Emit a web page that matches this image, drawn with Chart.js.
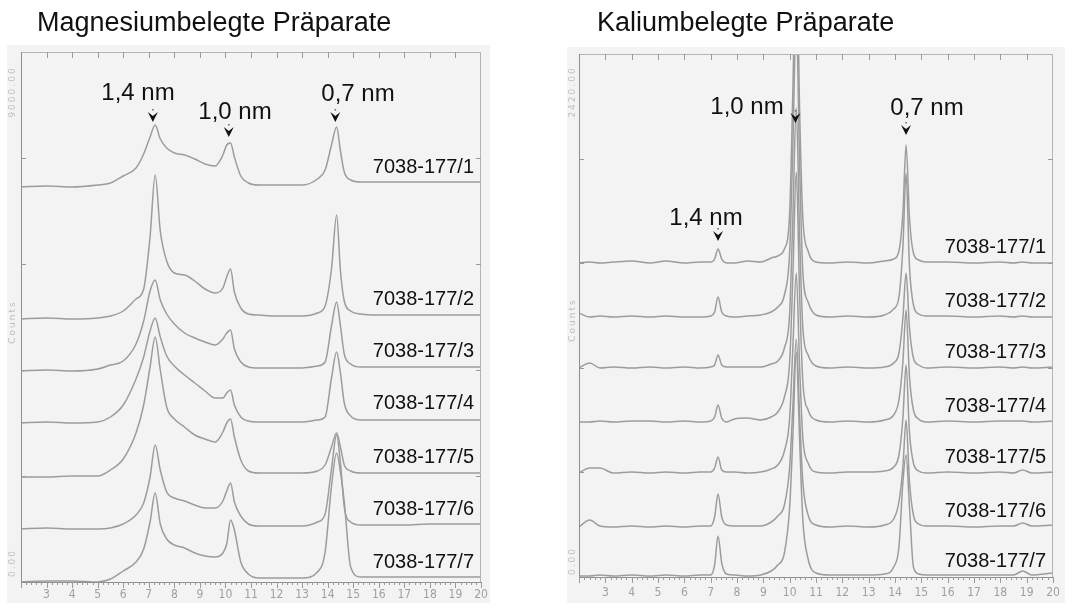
<!DOCTYPE html>
<html>
<head>
<meta charset="utf-8">
<script src="https://cdn.jsdelivr.net/npm/chart.js@4.4.1/dist/chart.umd.min.js"></script>
<style>
  html, body { margin: 0; padding: 0; }
  body { width: 1070px; height: 603px; background: #ffffff; position: relative; overflow: hidden;
         font-family: 'Liberation Sans', Arial, sans-serif; }
  .sheet { position: absolute; background: #f3f3f3; }
  canvas { position: absolute; top: 0; }
  .title { position: absolute; font-size: 27px; line-height: 1; color: #111; white-space: nowrap; }
  .peak { position: absolute; font-size: 24px; line-height: 1; color: #111; white-space: nowrap;
          transform: translate(-50%, -50%); }
  .sample { position: absolute; font-size: 20px; line-height: 1; color: #111; white-space: nowrap;
            transform: translate(-100%, -50%); }
  .axisnote { position: absolute; font-size: 9px; line-height: 1; color: #bdbdbd; white-space: nowrap;
              letter-spacing: 2px; transform: translate(-50%, -50%) rotate(-90deg);
              font-family: 'DejaVu Sans', sans-serif; }
</style>
</head>
<body>
<div class="sheet" style="left:7px;top:45px;width:483px;height:558px"></div>
<div class="sheet" style="left:567px;top:47px;width:498px;height:556px"></div>

<canvas id="mg" width="535" height="603" style="left:0;width:535px;height:603px"></canvas>
<canvas id="k" width="535" height="603" style="left:535px;width:535px;height:603px"></canvas>

<div class="title" style="left:37px;top:9px">Magnesiumbelegte Präparate</div>
<div class="title" style="left:597px;top:9px">Kaliumbelegte Präparate</div>

<div class="peak" style="left:138px;top:92px">1,4 nm</div>
<div class="peak" style="left:235px;top:111px">1,0 nm</div>
<div class="peak" style="left:358px;top:93px">0,7 nm</div>
<div class="peak" style="left:747px;top:106px">1,0 nm</div>
<div class="peak" style="left:927px;top:107px">0,7 nm</div>
<div class="peak" style="left:706px;top:217px">1,4 nm</div>

<div class="axisnote" style="left:12px;top:92px">9000.00</div>
<div class="axisnote" style="left:12px;top:322px">Counts</div>
<div class="axisnote" style="left:12px;top:563px">0.00</div>
<div class="axisnote" style="left:572px;top:92px">2420.00</div>
<div class="axisnote" style="left:572px;top:320px">Counts</div>
<div class="axisnote" style="left:572px;top:561px">0.00</div>

<script>
// ---- diffraction angle (°2θ) axis ----
const X_TICKS = [3, 4, 5, 6, 7, 8, 9, 10, 11, 12, 13, 14, 15, 16, 17, 18, 19, 20];
const SAMPLES = ['7038-177/1', '7038-177/2', '7038-177/3', '7038-177/4', '7038-177/5', '7038-177/6', '7038-177/7'];

// ---- Mg-saturated samples: angle grid and intensities above each trace baseline ----
const MG_THETA = [2, 3, 4, 5, 5.5, 6, 6.5, 6.8, 7.05, 7.25, 7.45, 7.7, 8.0, 8.4, 8.8, 9.2, 9.6, 9.9,
  10.05, 10.2, 10.35, 10.6, 10.9, 11.3, 12, 13, 13.6, 13.9, 14.15, 14.35, 14.5, 14.65, 14.9, 15.3, 16, 17, 18, 19, 20];
const MG_1 = [0, 1, 0, 2, 4, 11, 19, 33, 50, 62, 48, 39, 34, 32, 28, 23, 21, 32, 42, 44, 30, 11, 4, 2, 2, 2, 8, 17, 42, 60, 36, 15, 7, 5, 5, 5, 5, 5, 5];
const MG_2 = [0, 1, 0, 1, 3, 8, 20, 30, 82, 144, 88, 58, 46, 44, 38, 30, 26, 31, 42, 50, 27, 11, 5, 4, 3, 3, 6, 13, 50, 104, 48, 18, 8, 5, 4, 4, 4, 4, 4];
const MG_3 = [0, 1, 0, 2, 6, 10, 27, 50, 80, 91, 71, 57, 47, 38, 33, 29, 26, 32, 38, 41, 22, 9, 4, 3, 3, 3, 5, 9, 45, 69, 45, 17, 7, 4, 4, 4, 4, 4, 4];
const MG_4 = [0, 1, 0, 1, 6, 18, 44, 66, 92, 105, 86, 67, 57, 48, 40, 32, 25, 25, 30, 33, 18, 6, 2, 1, 1, 1, 3, 6, 45, 71, 50, 20, 7, 3, 3, 3, 3, 3, 3];
const MG_5 = [0, 0, 1, 1, 7, 18, 44, 72, 110, 140, 107, 70, 58, 50, 42, 38, 35, 45, 54, 58, 40, 17, 6, 4, 4, 4, 6, 12, 30, 44, 30, 12, 6, 4, 4, 4, 4, 4, 4];
const MG_6 = [0, 1, 0, 0, 1, 5, 14, 26, 52, 84, 59, 37, 31, 28, 24, 21, 21, 28, 38, 46, 27, 13, 5, 3, 3, 3, 7, 15, 60, 94, 66, 22, 7, 4, 4, 4, 5, 5, 5];
const MG_7 = [0, 1, 1, 0, 3, 11, 20, 33, 60, 89, 58, 43, 37, 34, 29, 26, 25, 29, 38, 62, 52, 20, 8, 4, 4, 4, 10, 30, 96, 129, 110, 80, 15, 5, 5, 5, 5, 5, 5];
const MG_SHIFT = [395, 263, 211, 159, 105, 53, 0];

// ---- K-saturated samples ----
const K_THETA = [2, 2.4, 2.8, 3.3, 4, 4.7, 5.3, 6, 6.6, 7.0, 7.15, 7.28, 7.42, 7.6, 7.9, 8.4, 8.9, 9.3, 9.55, 9.8,
  10.0, 10.12, 10.25, 10.38, 10.5, 10.7, 11.0, 11.5, 12.2, 13, 13.6, 13.95, 14.15, 14.3, 14.42, 14.55, 14.7, 14.9,
  15.2, 16, 17, 18, 18.5, 18.85, 19.2, 20];
const K_1 = [0, 1, 0, 1, 2, 0, 2, 0, 1, 1, 4, 14, 4, 0, 0, 2, 1, 5, 7, 14, 50, 170, 330, 150, 45, 12, 1, 0, 1, 0, 2, 4, 12, 50, 118, 45, 10, 3, 1, 1, 0, 1, 0, 1, 0, 0];
const K_2 = [4, 0, 1, 0, 1, 0, 1, 0, 0, 1, 5, 20, 5, 1, 0, 1, 2, 5, 10, 22, 65, 170, 300, 150, 45, 15, 2, 0, 1, 0, 2, 8, 20, 70, 144, 50, 12, 3, 1, 1, 0, 1, 0, 1, 0, 0];
const K_3 = [0, 5, 0, 1, 0, 1, 0, 1, 0, 1, 3, 13, 3, 1, 1, 1, 1, 4, 7, 20, 55, 150, 260, 130, 40, 13, 2, 0, 1, 0, 1, 5, 15, 50, 95, 40, 10, 3, 0, 1, 0, 1, 0, 1, 0, 1];
const K_4 = [0, 0, 1, 0, 1, 1, 0, 1, 0, 1, 5, 17, 4, 0, 3, 4, 2, 5, 10, 25, 60, 145, 250, 125, 40, 12, 2, 0, 1, 0, 2, 7, 22, 60, 112, 45, 12, 3, 0, 1, 0, 1, 1, 1, 0, 1];
const K_5 = [0, 5, 5, 0, 1, 0, 1, 0, 1, 1, 5, 16, 3, 1, 1, 0, 1, 4, 8, 22, 55, 125, 200, 105, 35, 10, 1, 0, 1, 1, 2, 6, 18, 55, 108, 40, 10, 2, 0, 1, 0, 1, 0, 3, 0, 1];
const K_6 = [0, 7, 1, 0, 1, 0, 1, 0, 1, 1, 10, 33, 10, 2, 1, 1, 1, 5, 11, 22, 60, 120, 188, 110, 45, 12, 2, 0, 1, 0, 2, 8, 25, 60, 107, 45, 12, 3, 1, 1, 0, 1, 1, 4, 1, 2];
const K_7 = [1, 1, 2, 1, 2, 1, 2, 1, 2, 2, 12, 41, 14, 3, 2, 1, 2, 6, 12, 24, 70, 140, 225, 135, 57, 18, 4, 2, 2, 2, 3, 10, 30, 95, 122, 70, 10, 3, 2, 2, 2, 2, 2, 6, 2, 4];
const K_SHIFT = [314, 260, 209, 155, 104, 50, 0];

// peak positions (°2θ) marked with arrows
const MG_PEAKS = [7.16, 10.13, 14.3];
const K_PEAKS = [7.28, 10.22, 14.42];

// ---- drawing ----
const TRACE_COLOR = '#9c9c9c';

function traces(theta, series, shifts) {
  return series.map((counts, i) => ({
    data: theta.map((t, j) => ({ x: t, y: counts[j] + shifts[i] })),
    borderColor: TRACE_COLOR,
    borderWidth: 1.5,
    pointRadius: 0,
    fill: false,
    cubicInterpolationMode: 'monotone'
  }));
}

// frame, tick marks and peak arrows of a diffractogram sheet
const sheetFrame = {
  id: 'sheetFrame',
  afterDatasetsDraw(chart, args, opts) {
    const { ctx, chartArea: a, scales: { x, y } } = chart;
    ctx.save();
    ctx.lineWidth = 1;
    ctx.strokeStyle = '#b4b4b4';
    ctx.beginPath();
    ctx.moveTo(a.left, a.top + 0.5); ctx.lineTo(a.right, a.top + 0.5);
    ctx.moveTo(a.right - 0.5, a.top); ctx.lineTo(a.right - 0.5, a.bottom);
    ctx.stroke();
    ctx.strokeStyle = '#8e8e8e';
    ctx.beginPath();
    ctx.moveTo(a.left + 0.5, a.top); ctx.lineTo(a.left + 0.5, a.bottom + 0.5);
    ctx.lineTo(a.right, a.bottom + 0.5);
    ctx.stroke();

    // integer ticks on top (inward) and bottom (outward), minor ticks every 0.2°
    ctx.strokeStyle = '#9a9a9a';
    ctx.beginPath();
    for (let k = 10; k <= 100; k++) {
      const px = Math.round(x.getPixelForValue(k / 5)) + 0.5;
      const major = k % 5 === 0;
      ctx.moveTo(px, a.bottom);
      ctx.lineTo(px, a.bottom + (major ? 6 : 3));
      if (major && k > 10 && k < 100) {
        ctx.moveTo(px, a.top);
        ctx.lineTo(px, a.top + 6);
      }
    }
    // count ticks on both side axes (inward)
    opts.countTicks.forEach(v => {
      const py = Math.round(y.getPixelForValue(v)) + 0.5;
      ctx.moveTo(a.left, py); ctx.lineTo(a.left + 5, py);
      ctx.moveTo(a.right, py); ctx.lineTo(a.right - 5, py);
    });
    ctx.stroke();

    // arrows over the reflections
    opts.peaks.forEach((t, i) => {
      const px = x.getPixelForValue(t);
      const py = opts.arrowY[i];
      ctx.fillStyle = '#111';
      ctx.beginPath();
      ctx.moveTo(px - 5, py - 5);
      ctx.lineTo(px, py + 5);
      ctx.lineTo(px + 5, py - 5);
      ctx.lineTo(px, py - 1);
      ctx.closePath();
      ctx.fill();
      ctx.fillStyle = '#666';
      ctx.fillRect(px - 0.7, py - 8, 1.5, 1.5);
    });
    ctx.restore();
  }
};

function sheet(canvasId, theta, series, shifts, cfg) {
  return new Chart(document.getElementById(canvasId), {
    type: 'line',
    data: { datasets: traces(theta, series, shifts) },
    plugins: [sheetFrame],
    options: {
      responsive: false,
      animation: false,
      devicePixelRatio: 1,
      layout: { padding: cfg.padding },
      plugins: {
        legend: { display: false },
        tooltip: { enabled: false },
        sheetFrame: { peaks: cfg.peaks, arrowY: cfg.arrowY, countTicks: cfg.countTicks }
      },
      scales: {
        x: {
          type: 'linear', min: 2, max: 20,
          afterBuildTicks: s => { s.ticks = X_TICKS.map(v => ({ value: v })); },
          afterFit: s => { s.height = cfg.axisHeight; },
          ticks: {
            autoSkip: false, maxRotation: 0, padding: cfg.labelPad,
            color: '#a0a0a0',
            font: { family: "'Liberation Sans Narrow', 'DejaVu Sans Condensed', sans-serif", size: 12 }
          },
          grid: { display: false },
          border: { display: false }
        },
        y: { display: false, min: 0, max: cfg.yMax }
      }
    }
  });
}

const mgChart = sheet('mg', MG_THETA, [MG_1, MG_2, MG_3, MG_4, MG_5, MG_6, MG_7], MG_SHIFT, {
  padding: { left: 21, right: 54, top: 52, bottom: 0 },
  axisHeight: 21, labelPad: -2, yMax: 530,
  peaks: MG_PEAKS, arrowY: [117, 132, 117], countTicks: [106, 212, 318, 424]
});
const kChart = sheet('k', K_THETA, [K_1, K_2, K_3, K_4, K_5, K_6, K_7], K_SHIFT, {
  padding: { left: 44, right: 17, top: 54, bottom: 0 },
  axisHeight: 26, labelPad: 1, yMax: 523,
  peaks: K_PEAKS, arrowY: [236, 118, 130], countTicks: [105, 209, 314, 418]
});

// sample names sit just above each trace baseline, right-aligned
function sampleLabels(chart, shifts, rightEdge, raise) {
  const y = chart.scales.y;
  shifts.forEach((s, i) => {
    const d = document.createElement('div');
    d.className = 'sample';
    d.textContent = SAMPLES[i];
    d.style.left = rightEdge + 'px';
    d.style.top = (y.getPixelForValue(s) - raise) + 'px';
    document.body.appendChild(d);
  });
}
sampleLabels(mgChart, MG_SHIFT, 474, 21);
sampleLabels(kChart, K_SHIFT, 1046, 17);
</script>
</body>
</html>
